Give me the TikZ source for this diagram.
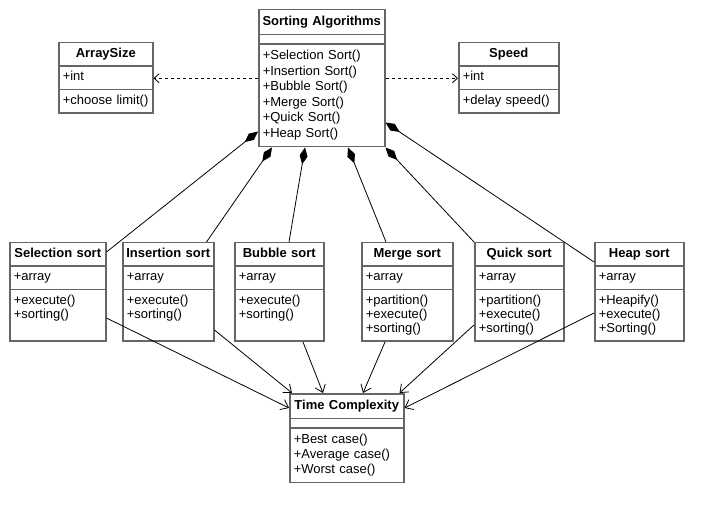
\documentclass[tikz,border=0pt]{standalone}
\usepackage{fontspec}
\setmainfont{Liberation Sans}
\usetikzlibrary{arrows.meta}
\usetikzlibrary{shapes.multipart}
\newcommand{\clsname}[1]{\hbox to\hsize{\hss\strut\bfseries #1\hss}}

\begin{document}
\begin{tikzpicture}[x=1pt,y=-1pt,
	cls/.style={rectangle split,rectangle split parts=3,draw=black!60,line width=1.5pt,anchor=north west,
		inner xsep=4pt,inner ysep=4pt,align=left,font=\fontsize{13}{14}\selectfont,
		rectangle split empty part height=0pt,rectangle split empty part depth=0pt},
	comp/.style={{Diamond[length=17pt,width=8pt]}-,line width=.8pt},
	dep/.style={-{Straight Barb[length=5pt,width=9pt]},dashed,line width=.8pt},
	use/.style={-{Straight Barb[length=7pt,width=11pt]},line width=.8pt}]
	\fill[white] (0,0) rectangle (723,521);
	% top row
	\node[cls,text width=86pt] (size) at (58,42) {\clsname{ArraySize}\nodepart{two}\strut+int\nodepart{three}\strut+choose limit()};
	\node[cls,text width=118pt,font=\fontsize{13}{15.5}\selectfont] (sort) at (258,9) {\clsname{Sorting Algorithms}\nodepart{two}\nodepart{three}\strut+Selection Sort()\\+Insertion Sort()\\+Bubble Sort()\\+Merge Sort()\\+Quick Sort()\\+Heap Sort()\strut};
	\node[cls,text width=92pt] (speed) at (458,42) {\clsname{Speed}\nodepart{two}\strut+int\nodepart{three}\strut+delay speed()};
	% sorts
	\node[cls,text width=88pt] (sel) at (9,242) {\clsname{Selection sort}\nodepart{two}\strut+array\nodepart{three}\strut+execute()\\+sorting()\\ \strut};
	\node[cls,text width=83pt] (ins) at (122,242) {\clsname{Insertion sort}\nodepart{two}\strut+array\nodepart{three}\strut+execute()\\+sorting()\\ \strut};
	\node[cls,text width=81pt] (bub) at (234,242) {\clsname{Bubble sort}\nodepart{two}\strut+array\nodepart{three}\strut+execute()\\+sorting()\\ \strut};
	\node[cls,text width=83pt] (mer) at (361,242) {\clsname{Merge sort}\nodepart{two}\strut+array\nodepart{three}\strut+partition()\\+execute()\\+sorting()\strut};
	\node[cls,text width=81pt] (qui) at (474,242) {\clsname{Quick sort}\nodepart{two}\strut+array\nodepart{three}\strut+partition()\\+execute()\\+sorting()\strut};
	\node[cls,text width=81pt] (heap) at (594,242) {\clsname{Heap sort}\nodepart{two}\strut+array\nodepart{three}\strut+Heapify()\\+execute()\\+Sorting()\strut};
	\node[cls,text width=106pt,font=\fontsize{13}{15}\selectfont] (time) at (289,393) {\clsname{Time Complexity}\nodepart{two}\nodepart{three}\strut+Best case()\\+Average case()\\+Worst case()\strut};

	\draw[dep] (sort.west) -- (sort.west -| size.east);
	\draw[dep] (sort.east) -- (sort.east -| speed.west);
	\draw[comp] ([yshift=16pt]sort.south west) -- ([yshift=-10pt]sel.north east);
	\draw[comp] ([xshift=14pt]sort.south west) -- ([xshift=-8pt]ins.north east);
	\draw[comp] ([xshift=47pt]sort.south west) -- ([xshift=55pt]bub.north west);
	\draw[comp] ([xshift=90pt]sort.south west) -- ([xshift=25pt]mer.north west);
	\draw[comp] (sort.south east) -- (qui.north west);
	\draw[comp] ([yshift=25pt]sort.south east) -- ([yshift=-20pt]heap.north west);
	\draw[use] ([yshift=-26pt]sel.east) -- ([yshift=30pt]time.west);
	\draw[use] ([yshift=-38pt]ins.east) -- ([xshift=3pt]time.north west);
	\draw[use] ([xshift=69pt]bub.south west) -- ([xshift=34pt]time.north west);
	\draw[use] ([xshift=24pt]mer.south west) -- ([xshift=74pt]time.north west);
	\draw[use] ([yshift=-33pt]qui.west) -- ([xshift=-5pt]time.north east);
	\draw[use] ([yshift=-21pt]heap.west) -- ([yshift=30pt]time.east);
\end{tikzpicture}
\end{document}
